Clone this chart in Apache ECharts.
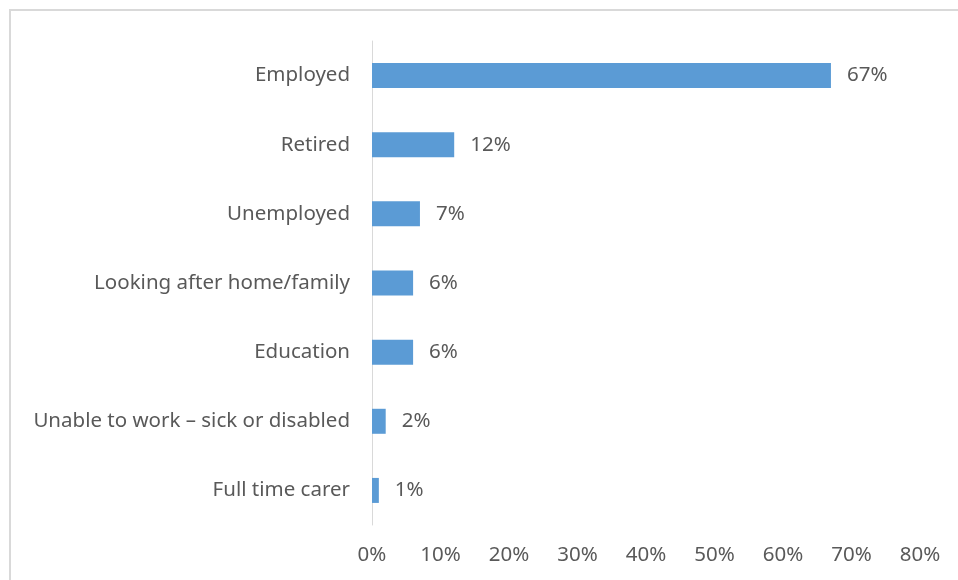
<!DOCTYPE html>
<html>
<head>
<meta charset="utf-8">
<script src="https://cdn.jsdelivr.net/npm/echarts@6/dist/echarts.min.js"></script>
<style>
  html, body { margin: 0; padding: 0; background: #fff; overflow: hidden; }
  #frame { position: absolute; left: 9px; top: 9px; width: 1000px; height: 600px;
           border: 2px solid #d9d9d9; box-sizing: border-box; }
  #chart { position: absolute; left: 0; top: 0; width: 958px; height: 580px; }
</style>
</head>
<body>
<div id="frame"></div>
<div id="chart"></div>
<script>
// Economic status categories and share of respondents (%)
const categories = [
  'Employed',
  'Retired',
  'Unemployed',
  'Looking after home/family',
  'Education',
  'Unable to work \u2013 sick or disabled',
  'Full time carer'
];
const shares = [67, 12, 7, 6, 6, 2, 1];

const textColor = '#595959';
const fontFamily = '"Noto Sans", sans-serif';

const chart = echarts.init(document.getElementById('chart'));
chart.setOption({
  animation: false,
  grid: { left: 372, right: 38, top: 41, bottom: 55, containLabel: false },
  xAxis: {
    type: 'value',
    min: 0,
    max: 80,
    interval: 10,
    axisLine: { show: false },
    axisTick: { show: false },
    splitLine: { show: false },
    axisLabel: { formatter: '{value}%', color: textColor, fontSize: 20.5, fontFamily, margin: 20 }
  },
  yAxis: {
    type: 'category',
    inverse: true,
    data: categories,
    axisLine: { show: true, lineStyle: { color: '#d9d9d9', width: 1 } },
    axisTick: { show: false },
    axisLabel: { color: textColor, fontSize: 20.5, fontFamily, margin: 22 }
  },
  series: [{
    type: 'bar',
    data: shares,
    barWidth: 25,
    itemStyle: { color: '#5b9bd5' },
    label: {
      show: true,
      position: 'right',
      distance: 16,
      formatter: '{c}%',
      color: textColor,
      fontSize: 20.5,
      fontFamily
    }
  }]
});
</script>
</body>
</html>
